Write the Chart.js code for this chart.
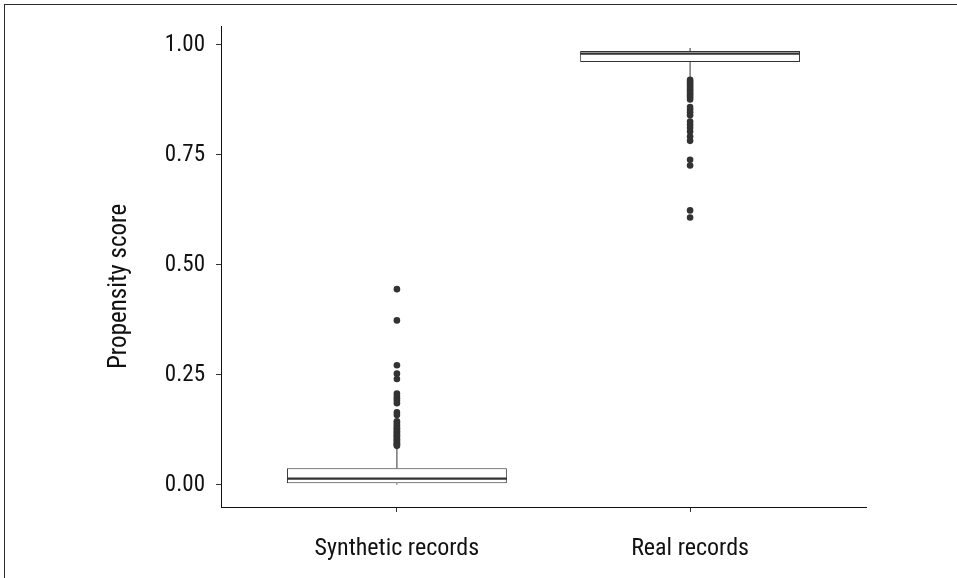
<!DOCTYPE html>
<html>
<head>
<meta charset="utf-8">
<style>
  html, body { margin: 0; padding: 0; background: #fff; }
  #wrap { position: relative; width: 957px; height: 578px; overflow: hidden; }
  #frame { position: absolute; left: 4px; top: 4px; right: -4px; bottom: -4px;
           border-top: 1.5px solid #2b2b2b; border-left: 1.5px solid #2b2b2b; }
  canvas { position: absolute; left: 0; top: 0; }
</style>
<script src="https://cdn.jsdelivr.net/npm/chart.js@4/dist/chart.umd.min.js"></script>
</head>
<body>
<div id="wrap">
  <div id="frame"></div>
  <canvas id="c" width="957" height="578"></canvas>
</div>
<script>
// Box-plot summaries, one entry per group
const categories = ['Synthetic records', 'Real records'];
const positions = [1, 2];
const whiskerLow = [0.001, 0.924];
const q1 = [0.004, 0.961];
const median = [0.0143, 0.980];
const q3 = [0.038, 0.986];
const whiskerHigh = [0.088, 0.993];

// Points beyond the whiskers
const syntheticOutliers = [
  0.445, 0.374, 0.272, 0.253, 0.241, 0.208, 0.202, 0.197, 0.192, 0.186,
  0.165, 0.159, 0.145, 0.141, 0.137, 0.133, 0.129, 0.126, 0.122, 0.119,
  0.116, 0.113, 0.110, 0.107, 0.104, 0.101, 0.098, 0.095, 0.093, 0.091, 0.089
];
const realOutliers = [
  0.921, 0.917, 0.913, 0.909, 0.905, 0.901, 0.897, 0.893, 0.889, 0.885,
  0.881, 0.876, 0.859, 0.853, 0.847, 0.840, 0.826, 0.819, 0.812, 0.803,
  0.792, 0.782, 0.739, 0.726, 0.624, 0.608
];

const yTicks = [0, 0.25, 0.5, 0.75, 1.0];
const yTickLabels = ['0.00', '0.25', '0.50', '0.75', '1.00'];
const yTitle = 'Propensity score';

const BOX_HALF = 0.375;
const INK = '#333333';
const FONT = "'Roboto Condensed', 'Open Sans', 'Noto Sans', sans-serif";
const STRETCH = 'condensed';

const datasets = [];

// Boxes (Q1 to Q3)
datasets.push({
  type: 'bar',
  data: positions.map((p, i) => ({ x: p, y: [q1[i], q3[i]] })),
  backgroundColor: '#ffffff',
  borderColor: INK,
  borderWidth: 1,
  borderSkipped: false,
  categoryPercentage: 1,
  barPercentage: 0.75,
  order: 3
});

// Whiskers and medians
positions.forEach((p, i) => {
  datasets.push({
    type: 'line',
    data: [{ x: p, y: q3[i] }, { x: p, y: whiskerHigh[i] }],
    borderColor: INK, borderWidth: 1, pointRadius: 0, order: 2
  });
  datasets.push({
    type: 'line',
    data: [{ x: p, y: whiskerLow[i] }, { x: p, y: q1[i] }],
    borderColor: INK, borderWidth: 1, pointRadius: 0, order: 2
  });
  datasets.push({
    type: 'line',
    data: [{ x: p - BOX_HALF, y: median[i] }, { x: p + BOX_HALF, y: median[i] }],
    borderColor: INK, borderWidth: 2.2, pointRadius: 0, order: 2
  });
});

// Outlier points
[syntheticOutliers, realOutliers].forEach((vals, i) => {
  datasets.push({
    type: 'scatter',
    data: vals.map(v => ({ x: positions[i], y: v })),
    backgroundColor: INK,
    borderWidth: 0,
    pointRadius: 3.3,
    pointHoverRadius: 3.3,
    order: 1
  });
});

// Vertical axis title, drawn beside the y axis and set a little below the panel centre
const axisTitle = {
  id: 'axisTitle',
  afterDraw(chart) {
    const { ctx, chartArea } = chart;
    ctx.save();
    ctx.translate(120, (chartArea.top + chartArea.bottom) / 2 + 20);
    ctx.rotate(-Math.PI / 2);
    ctx.font = STRETCH + ' 25px ' + FONT;
    ctx.fillStyle = '#111';
    ctx.textAlign = 'center';
    ctx.textBaseline = 'middle';
    ctx.fillText(yTitle, 0, 0);
    ctx.restore();
  }
};

new Chart(document.getElementById('c'), {
  type: 'bar',
  data: { datasets },
  plugins: [axisTitle],
  options: {
    responsive: false,
    animation: false,
    devicePixelRatio: 1,
    layout: { padding: { left: 0, right: 91, top: 26, bottom: 0 } },
    plugins: { legend: { display: false }, tooltip: { enabled: false } },
    scales: {
      x: {
        type: 'linear',
        offset: false,
        min: 0.4,
        max: 2.6,
        afterBuildTicks: s => { s.ticks = positions.map(v => ({ value: v })); },
        afterFit: s => { s.height = 71; },
        ticks: {
          callback: (v) => categories[positions.indexOf(v)],
          color: '#111',
          font: { family: FONT, size: 24, style: STRETCH },
          padding: 23,
          maxRotation: 0,
          autoSkip: false
        },
        grid: { display: true, offset: false, drawOnChartArea: false, drawTicks: true, tickLength: 5, tickColor: INK, tickWidth: 1 },
        border: { display: true, color: '#111', width: 1 }
      },
      y: {
        type: 'linear',
        min: -0.05,
        max: 1.043,
        afterBuildTicks: s => { s.ticks = yTicks.map(v => ({ value: v })); },
        afterFit: s => { s.width = 221; },
        ticks: {
          callback: (v) => yTickLabels[yTicks.indexOf(v)],
          color: '#111',
          font: { family: FONT, size: 23, style: STRETCH },
          padding: 11
        },
        title: { display: false },
        grid: { display: true, drawOnChartArea: false, drawTicks: true, tickLength: 5, tickColor: INK, tickWidth: 1 },
        border: { display: true, color: '#111', width: 1 }
      }
    }
  }
});
</script>
</body>
</html>
